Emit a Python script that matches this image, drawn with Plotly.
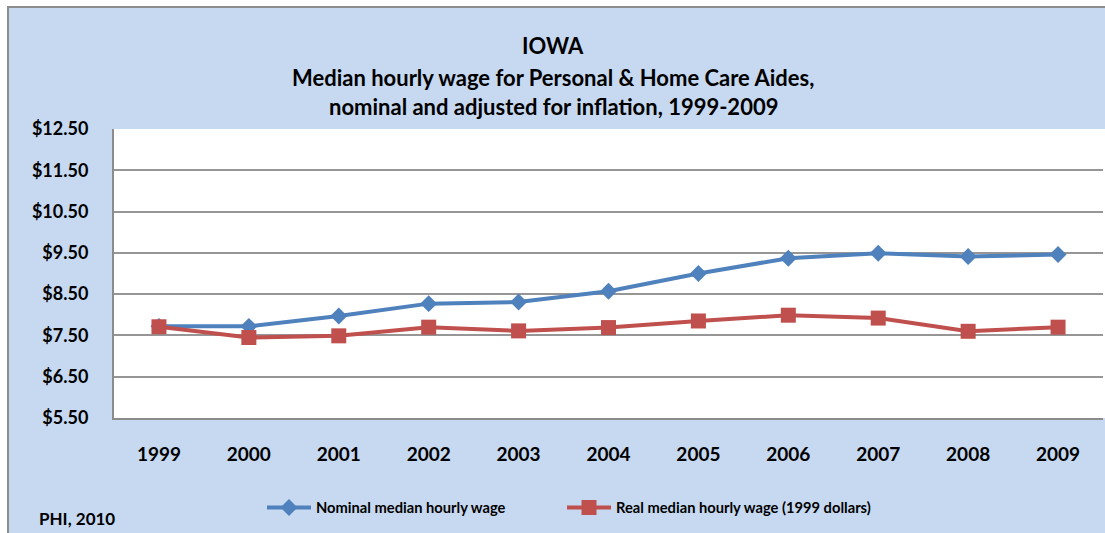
import plotly.graph_objects as go

years = ["1999", "2000", "2001", "2002", "2003", "2004", "2005", "2006", "2007", "2008", "2009"]
nominal = [7.72, 7.72, 7.97, 8.27, 8.31, 8.57, 9.00, 9.37, 9.49, 9.41, 9.46]
real = [7.71, 7.45, 7.49, 7.70, 7.61, 7.69, 7.85, 7.99, 7.92, 7.60, 7.70]
ytick_vals = [5.5, 6.5, 7.5, 8.5, 9.5, 10.5, 11.5, 12.5]
ytick_text = ["$5.50", "$6.50", "$7.50", "$8.50", "$9.50", "$10.50", "$11.50", "$12.50"]

W, H = 1105, 533
L, R, T, B = 114, 2, 129, 115
pw, ph = W - L - R, H - T - B

def px(x):
    return (x - L) / pw

def py(y):
    return (H - B - y) / ph

FONT = "Lato"
BG = "#C6D9F1"
GRID = "#969696"

fig = go.Figure()
fig.add_trace(go.Scatter(
    x=years, y=nominal, mode="lines+markers", name="Nominal median hourly wage",
    line=dict(color="#4F81BD", width=4),
    marker=dict(symbol="diamond", size=13, color="#4F81BD"),
    legend="legend",
))
fig.add_trace(go.Scatter(
    x=years, y=real, mode="lines+markers", name="Real median hourly wage (1999 dollars)",
    line=dict(color="#C0504D", width=4),
    marker=dict(symbol="square", size=15, color="#C0504D"),
    legend="legend2",
))

shapes = [
    dict(type="rect", xref="paper", yref="paper", x0=px(8), x1=px(1115), y0=py(545), y1=py(7),
         fillcolor=BG, line=dict(color="#8C8C8C", width=2), layer="below"),
    dict(type="rect", xref="paper", yref="paper", x0=0, x1=px(1115), y0=0, y1=1,
         fillcolor="white", line=dict(width=0), layer="below"),
]

titles = [
    ("IOWA", 45),
    ("Median hourly wage for Personal &amp; Home Care Aides,", 78),
    ("nominal and adjusted for inflation, 1999-2009", 107),
]
annotations = []
for txt, yc in titles:
    annotations.append(dict(text="<b>%s</b>" % txt, xref="paper", yref="paper",
                            x=px(553), y=py(yc), xanchor="center", yanchor="middle",
                            showarrow=False, font=dict(family=FONT, size=22, color="black")))
annotations.append(dict(text="<b>PHI, 2010</b>", xref="paper", yref="paper",
                        x=px(37), y=py(518), xanchor="left", yanchor="middle",
                        showarrow=False, font=dict(family=FONT, size=17, color="black")))

legend_common = dict(orientation="h", bgcolor="rgba(0,0,0,0)", borderwidth=0,
                     itemwidth=44,
                     font=dict(family=FONT, size=14.7, color="black", weight="bold"),
                     xanchor="left", yanchor="middle", xref="paper", yref="paper")

fig.update_layout(
    width=W, height=H,
    margin=dict(l=L, r=R, t=T, b=B, pad=0),
    paper_bgcolor="white", plot_bgcolor="white",
    shapes=shapes, annotations=annotations,
    showlegend=True,
    legend=dict(x=px(262), y=py(508), **legend_common),
    legend2=dict(x=px(562), y=py(508), **legend_common),
    xaxis=dict(type="category", range=[-0.5, 10.5], showgrid=False, showline=True,
               linecolor="#8C8C8C", linewidth=2, ticks="", ticklabelstandoff=18,
               tickfont=dict(family=FONT, size=19, color="black", weight="bold"),
               fixedrange=True, zeroline=False),
    yaxis=dict(range=[5.5, 12.5], tickvals=ytick_vals, ticktext=ytick_text,
               showgrid=True, gridcolor=GRID, gridwidth=1.5, showline=True,
               linecolor="#8C8C8C", linewidth=2, ticks="", ticklabelstandoff=20,
               tickfont=dict(family=FONT, size=18, color="black", weight="bold"),
               zeroline=False, fixedrange=True),
)

fig.write_html("out.html", config={"displayModeBar": False},
               post_script="document.body.style.margin='0';document.body.style.overflow='hidden';")
